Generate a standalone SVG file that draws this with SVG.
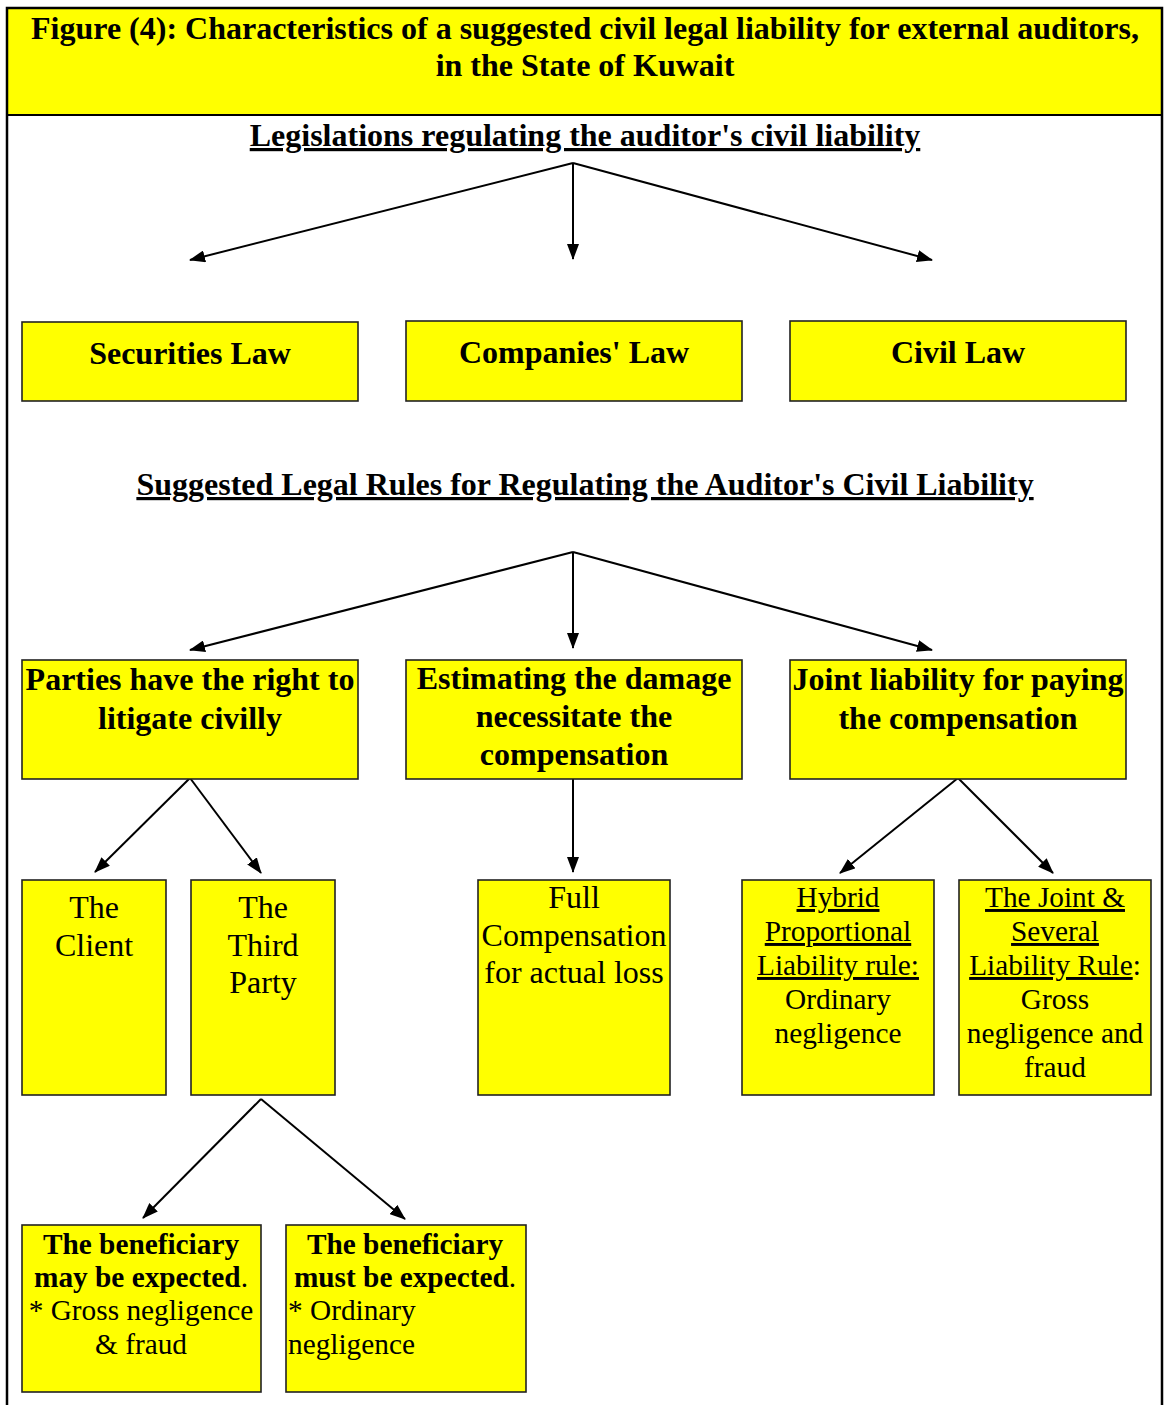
<svg xmlns="http://www.w3.org/2000/svg" width="1164" height="1405" viewBox="0 0 1164 1405" font-family="'Liberation Serif', 'Times New Roman', serif">
<defs>
<marker id="ah" markerWidth="16" markerHeight="12" refX="15" refY="6" orient="auto" markerUnits="userSpaceOnUse">
<path d="M0,0 L16,6 L0,12 Z" fill="#000"/>
</marker>
</defs>
<style>
.box{fill:#ffff00;stroke:#222;stroke-width:1.6}
.b{font-family:'Liberation Serif',serif;font-weight:bold;font-size:32px;fill:#000;text-anchor:middle}
.n{font-family:'Liberation Serif',serif;font-size:32px;fill:#000;text-anchor:middle}
.s{font-family:'Liberation Serif',serif;font-size:29.3px;fill:#000;text-anchor:middle}
.sl{font-family:'Liberation Serif',serif;font-size:29.3px;fill:#000}
.u{text-decoration:underline}
.c{stroke:#000;stroke-width:2;fill:none;marker-end:url(#ah)}
</style>
<rect x="0" y="0" width="1164" height="1405" fill="#fff"/>
<g id="frame">
<rect x="8" y="8" width="1153" height="107" fill="#ffff00"/>
<path d="M7,1405 L7,8 L1162,8 L1162,1405" fill="none" stroke="#000" stroke-width="2.5"/>
<line x1="7" y1="115" x2="1162" y2="115" stroke="#000" stroke-width="2"/>
</g>
<g id="title">
<text class="b" x="585" y="39">Figure (4): Characteristics of a suggested civil legal liability for external auditors,</text>
<text class="b" x="585" y="76">in the State of Kuwait</text>
</g>
<g id="heading1"><text class="b u" x="585" y="146">Legislations regulating the auditor's civil liability</text></g>
<g id="heading2"><text class="b u" x="585" y="495">Suggested Legal Rules for Regulating the Auditor's Civil Liability</text></g>
<g id="connectors">
<line class="c" x1="573" y1="163" x2="190" y2="260"/>
<line class="c" x1="573" y1="163" x2="573" y2="259"/>
<line class="c" x1="573" y1="163" x2="932" y2="260"/>
<line class="c" x1="573" y1="552" x2="190" y2="650"/>
<line class="c" x1="573" y1="552" x2="573" y2="648"/>
<line class="c" x1="573" y1="552" x2="932" y2="650"/>
<line class="c" x1="190" y1="778" x2="95" y2="872"/>
<line class="c" x1="190" y1="778" x2="261" y2="873"/>
<line class="c" x1="573" y1="778" x2="573" y2="872"/>
<line class="c" x1="958" y1="778" x2="840" y2="873"/>
<line class="c" x1="958" y1="778" x2="1053" y2="873"/>
<line class="c" x1="261" y1="1099" x2="143" y2="1218"/>
<line class="c" x1="261" y1="1099" x2="405" y2="1219"/>
</g>
<g id="securities"><rect class="box" x="22" y="322" width="336" height="79"/><text class="b" x="190" y="364">Securities Law</text></g>
<g id="companies"><rect class="box" x="406" y="321" width="336" height="80"/><text class="b" x="574" y="363">Companies' Law</text></g>
<g id="civil"><rect class="box" x="790" y="321" width="336" height="80"/><text class="b" x="958" y="363">Civil Law</text></g>
<g id="parties"><rect class="box" x="22" y="660" width="336" height="119"/><text class="b" x="190" y="690">Parties have the right to</text><text class="b" x="190" y="729">litigate civilly</text></g>
<g id="estimating"><rect class="box" x="406" y="660" width="336" height="119"/><text class="b" x="574" y="689">Estimating the damage</text><text class="b" x="574" y="727">necessitate the</text><text class="b" x="574" y="765">compensation</text></g>
<g id="joint"><rect class="box" x="790" y="660" width="336" height="119"/><text class="b" x="958" y="690">Joint liability for paying</text><text class="b" x="958" y="729">the compensation</text></g>
<g id="client"><rect class="box" x="22" y="880" width="144" height="215"/><text class="n" x="94" y="918">The</text><text class="n" x="94" y="956">Client</text></g>
<g id="thirdparty"><rect class="box" x="191" y="880" width="144" height="215"/><text class="n" x="263" y="918">The</text><text class="n" x="263" y="956">Third</text><text class="n" x="263" y="993">Party</text></g>
<g id="fullcomp"><rect class="box" x="478" y="880" width="192" height="215"/><text class="n" x="574" y="908">Full</text><text class="n" x="574" y="946">Compensation</text><text class="n" x="574" y="983">for actual loss</text></g>
<g id="hybrid"><rect class="box" x="742" y="880" width="192" height="215"/><text class="s u" x="838" y="907">Hybrid</text><text class="s u" x="838" y="941">Proportional</text><text class="s u" x="838" y="975">Liability rule:</text><text class="s" x="838" y="1009">Ordinary</text><text class="s" x="838" y="1043">negligence</text></g>
<g id="jointseveral"><rect class="box" x="959" y="880" width="192" height="215"/><text class="s u" x="1055" y="907">The Joint &amp;</text><text class="s u" x="1055" y="941">Several</text><text class="s" x="1055" y="975"><tspan class="u">Liability Rule</tspan>:</text><text class="s" x="1055" y="1009">Gross</text><text class="s" x="1055" y="1043">negligence and</text><text class="s" x="1055" y="1077">fraud</text></g>
<g id="may"><rect class="box" x="22" y="1225" width="239" height="167"/><text class="s" x="141" y="1254" font-weight="bold">The beneficiary</text><text class="s" x="141" y="1287"><tspan font-weight="bold">may be expected</tspan>.</text><text class="s" x="141" y="1320">* Gross negligence</text><text class="s" x="141" y="1354">&amp; fraud</text></g>
<g id="must"><rect class="box" x="286" y="1225" width="240" height="167"/><text class="s" x="405" y="1254" font-weight="bold">The beneficiary</text><text class="s" x="405" y="1287"><tspan font-weight="bold">must be expected</tspan>.</text><text class="sl" x="288" y="1320">* Ordinary</text><text class="sl" x="288" y="1354">negligence</text></g>
</svg>
